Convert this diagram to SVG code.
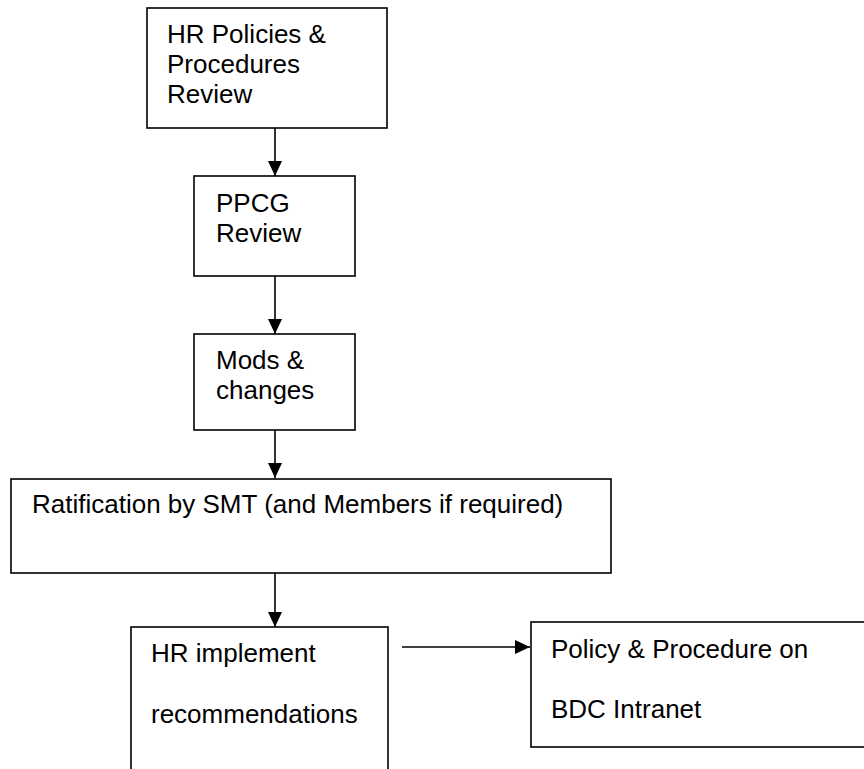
<svg xmlns="http://www.w3.org/2000/svg" width="864" height="769" viewBox="0 0 864 769">
  <style>
    .box { fill: #fff; stroke: #000; stroke-width: 1.6; }
    .lbl { font-family: "Liberation Sans", Arial, sans-serif; font-size: 26px; fill: #000; }
    .link { stroke: #000; stroke-width: 1.6; fill: none; marker-end: url(#head); }
  </style>
  <defs>
    <marker id="head" viewBox="0 0 15 14" refX="15" refY="7" markerWidth="15" markerHeight="14" markerUnits="userSpaceOnUse" orient="auto">
      <path d="M0,0 L15,7 L0,14 Z" fill="#000"/>
    </marker>
  </defs>
  <rect width="864" height="769" fill="#fff"/>

  <g id="hr-review">
    <rect class="box" x="147" y="8" width="240" height="120"/>
    <text class="lbl" x="167" y="43">HR Policies &amp;</text>
    <text class="lbl" x="167" y="73">Procedures</text>
    <text class="lbl" x="167" y="103">Review</text>
  </g>

  <g id="ppcg-review">
    <rect class="box" x="194" y="176" width="161" height="100"/>
    <text class="lbl" x="216" y="212">PPCG</text>
    <text class="lbl" x="216" y="242">Review</text>
  </g>

  <g id="mods-changes">
    <rect class="box" x="194" y="334" width="161" height="96"/>
    <text class="lbl" x="216" y="369">Mods &amp;</text>
    <text class="lbl" x="216" y="399">changes</text>
  </g>

  <g id="ratification">
    <rect class="box" x="11" y="479" width="600" height="94"/>
    <text class="lbl" x="32" y="513">Ratification by SMT (and Members if required)</text>
  </g>

  <g id="hr-implement">
    <rect class="box" x="131" y="627" width="257" height="160"/>
    <text class="lbl" x="151" y="662">HR implement</text>
    <text class="lbl" x="151" y="723">recommendations</text>
  </g>

  <g id="intranet">
    <rect class="box" x="531" y="622" width="360" height="125"/>
    <text class="lbl" x="551" y="658">Policy &amp; Procedure on</text>
    <text class="lbl" x="551" y="718">BDC Intranet</text>
  </g>

  <g id="connectors">
    <line class="link" x1="275" y1="128" x2="275" y2="176"/>
    <line class="link" x1="275" y1="276" x2="275" y2="334"/>
    <line class="link" x1="275" y1="430" x2="275" y2="478"/>
    <line class="link" x1="275" y1="573" x2="275" y2="627"/>
    <line class="link" x1="402" y1="647" x2="530" y2="647"/>
  </g>
</svg>
